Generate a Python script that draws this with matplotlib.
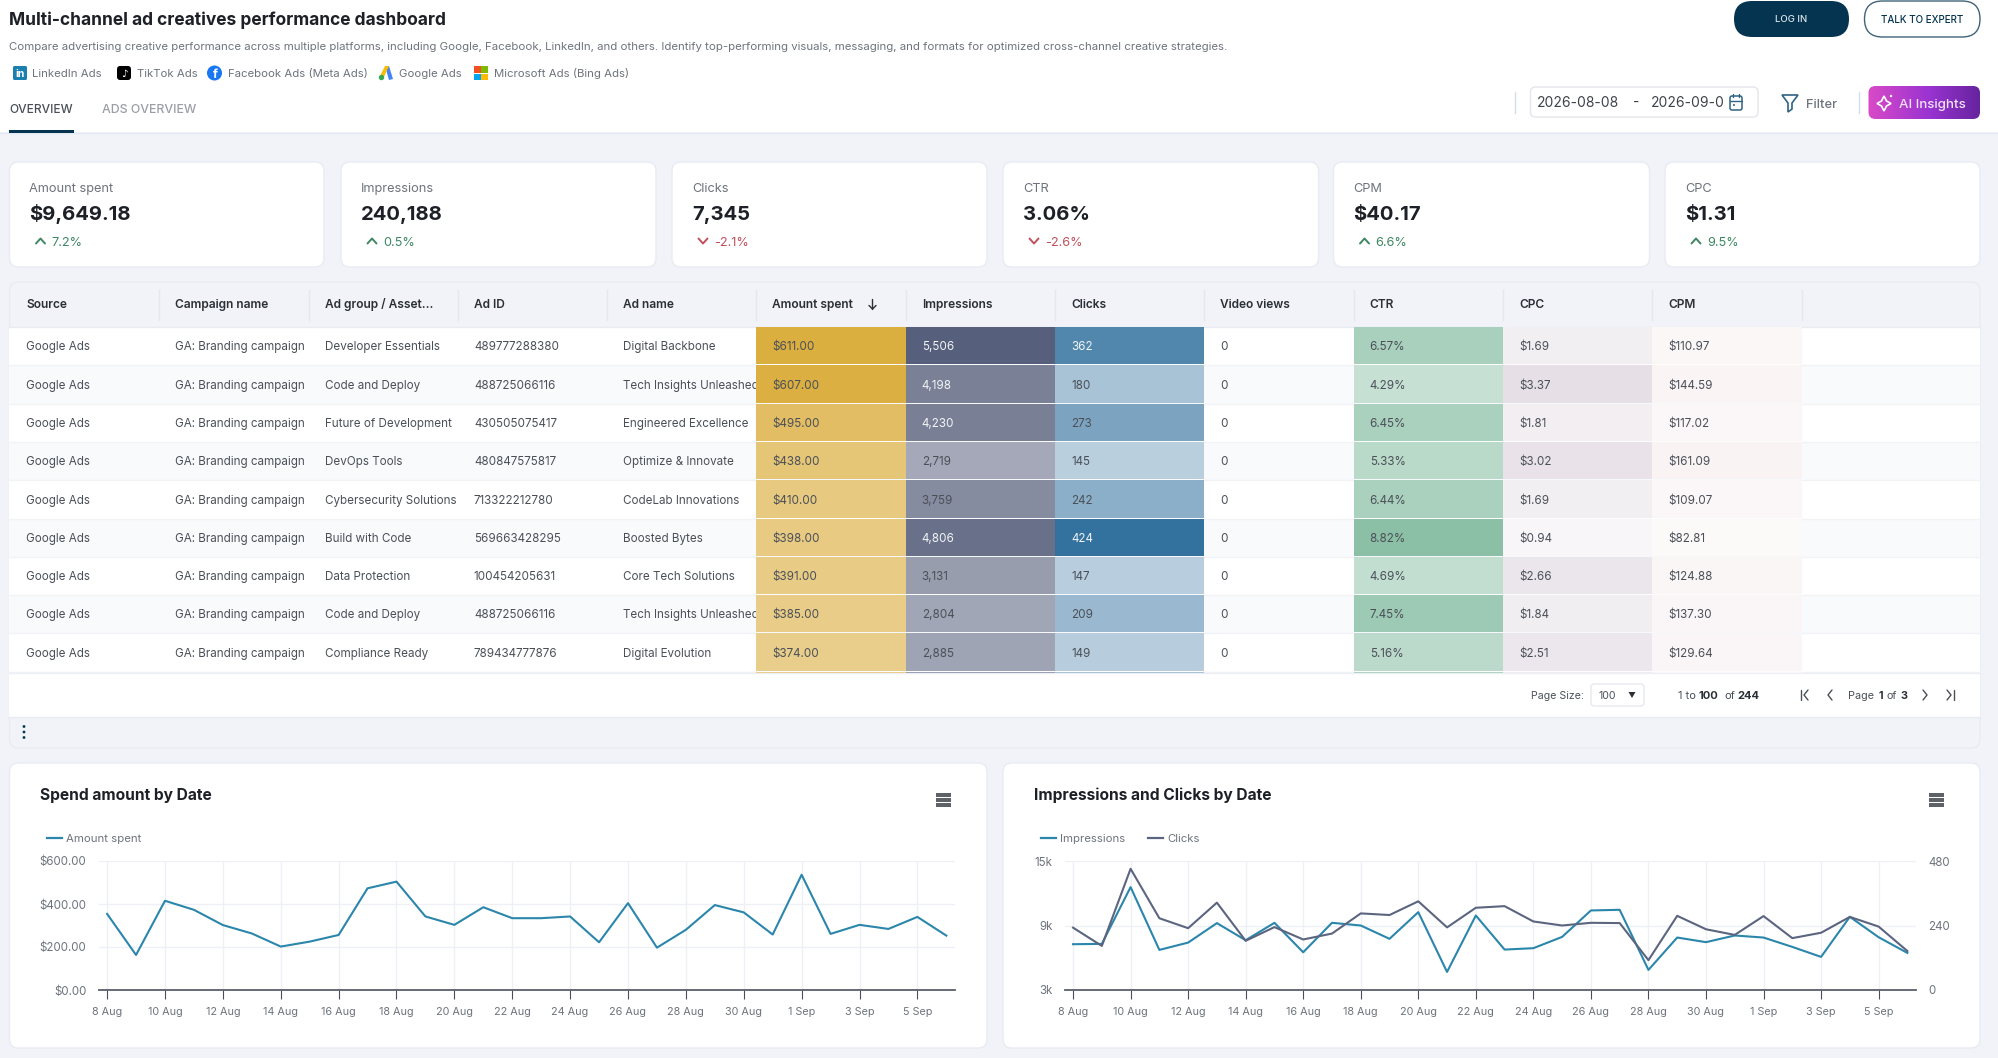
import numpy as np
import pandas as pd
import matplotlib
matplotlib.use("Agg")
import matplotlib.pyplot as plt
from matplotlib.patches import FancyBboxPatch, Rectangle, Polygon, Circle

plt.rcParams['font.family'] = ['Inter', 'DejaVu Sans']

W, H = 1999, 1058

# kpi cards
kpi_names = ["Amount spent", "Impressions", "Clicks", "CTR", "CPM", "CPC"]
kpi_values = ["$9,649.18", "240,188", "7,345", "3.06%", "$40.17", "$1.31"]
kpi_deltas = [7.2, 0.5, -2.1, -2.6, 6.6, 9.5]

# table
headers = ["Source", "Campaign name", "Ad group / Asset...", "Ad ID", "Ad name", "Amount spent",
           "Impressions", "Clicks", "Video views", "CTR", "CPC", "CPM"]
sources = ["Google Ads"] * 9
campaigns = ["GA: Branding campaign"] * 9
ad_groups = ["Developer Essentials", "Code and Deploy", "Future of Development", "DevOps Tools",
             "Cybersecurity Solutions", "Build with Code", "Data Protection", "Code and Deploy", "Compliance Ready"]
ad_ids = ["489777288380", "488725066116", "430505075417", "480847575817", "713322212780",
          "569663428295", "100454205631", "488725066116", "789434777876"]
ad_names = ["Digital Backbone", "Tech Insights Unleashed", "Engineered Excellence", "Optimize & Innovate",
            "CodeLab Innovations", "Boosted Bytes", "Core Tech Solutions", "Tech Insights Unleashed", "Digital Evolution"]
amount_spent = [611.00, 607.00, 495.00, 438.00, 410.00, 398.00, 391.00, 385.00, 374.00]
impressions = [5506, 4198, 4230, 2719, 3759, 4806, 3131, 2804, 2885]
clicks = [362, 180, 273, 145, 242, 424, 147, 209, 149]
video_views = [0] * 9
ctr = [6.57, 4.29, 6.45, 5.33, 6.44, 8.82, 4.69, 7.45, 5.16]
cpc = [1.69, 3.37, 1.81, 3.02, 1.69, 0.94, 2.66, 1.84, 2.51]
cpm = [110.97, 144.59, 117.02, 161.09, 109.07, 82.81, 124.88, 137.30, 129.64]
# the row cut off at the bottom of the table, only its colours show
next_row = [370, 3000, 180, 6.0, 2.05, 123]

# charts
dates = pd.date_range("2026-08-08", periods=30)
spend = [354, 163, 415, 373, 302, 263, 202, 225, 256, 473, 504, 342, 303, 385, 334,
         334, 342, 222, 404, 197, 280, 395, 361, 258, 536, 261, 303, 284, 340, 253]
daily_impressions = [7260, 7290, 12570, 6730, 7410, 9220, 7630, 9250, 6510, 9250, 9000, 7760, 10240, 4680, 9930,
                     6760, 6890, 7940, 10400, 10460, 4870, 7880, 7450, 8070, 7880, 7010, 6080, 9810, 7910, 6450]
daily_clicks = [232, 164, 451, 267, 230, 325, 183, 234, 188, 210, 285, 279, 330, 233, 306,
                312, 255, 240, 250, 249, 111, 276, 226, 205, 275, 193, 213, 272, 236, 145]

BG = "#f1f3f9"
NAVY = "#04344f"
TEXT = "#4b5058"
DARK = "#1d2026"
GREY = "#6e737c"
GREEN = "#3d8763"
RED = "#c0505c"
TEAL = "#2b86ab"
SLATE = "#5c6580"

fig = plt.figure(figsize=(W / 100, H / 100), dpi=100, facecolor=BG)
ui = fig.add_axes([0, 0, 1, 1])
ui.set_xlim(0, W)
ui.set_ylim(H, 0)
ui.axis("off")


def box(x0, y0, x1, y1, fc="white", ec="none", r=0, lw=1, z=1, ax=ui):
    if r:
        p = FancyBboxPatch((x0, y0), x1 - x0, y1 - y0, boxstyle=f"round,pad=0,rounding_size={r}",
                           fc=fc, ec=ec, lw=lw, zorder=z)
    else:
        p = Rectangle((x0, y0), x1 - x0, y1 - y0, fc=fc, ec=ec, lw=lw, zorder=z)
    ax.add_patch(p)
    return p


def label(x, y, s, size=8.7, color=TEXT, weight="normal", ha="left", z=5, clip=None):
    # baseline placement keeps a row of labels level whatever letters they have
    t = ui.text(x, y + size * 0.5, s, fontsize=size, color=color, fontweight=weight, ha=ha, va="baseline", zorder=z)
    if clip is not None:
        t.set_clip_on(True)
        t.set_clip_path(Rectangle((clip[0], 0), clip[1] - clip[0], H, transform=ui.transData))
    return t


def stroke(xs, ys, color=TEXT, lw=1.2, z=6):
    ui.plot(xs, ys, color=color, lw=lw, zorder=z, solid_capstyle="round", solid_joinstyle="round")


# header
box(0, 0, W, 132)
ui.plot([0, W], [132.5, 132.5], color="#e4e8f1", lw=1, zorder=2)
label(9, 19, "Multi-channel ad creatives performance dashboard", size=12.5, color=DARK, weight="bold")
label(9, 46, "Compare advertising creative performance across multiple platforms, including Google, Facebook, "
             "LinkedIn, and others. Identify top-performing visuals, messaging, and formats for optimized "
             "cross-channel creative strategies.", size=8.24, color=GREY)

box(1734, 1, 1849, 37, fc=NAVY, r=18)
label(1791, 19, "LOG IN", size=6.9, color="#dfe7ec", weight="medium", ha="center")
box(1864.5, 1, 1980, 37, ec="#3f6478", r=18, lw=1)
label(1922, 19, "TALK TO EXPERT", size=7.1, color=NAVY, weight="medium", ha="center")

# platform logos
box(13, 66, 27, 80, fc="#1b7fb0", r=1.5)
label(20, 73.5, "in", size=7.5, color="white", weight="bold", ha="center")
label(32, 73, "LinkedIn Ads", size=8.2, color=GREY)
box(117, 66, 131, 80, fc="black", r=3)
label(124, 73.5, "♪", size=7.5, color="white", ha="center")
label(137, 73, "TikTok Ads", size=8.2, color=GREY)
ui.add_patch(Circle((214.5, 73), 7.5, fc="#1877f2", zorder=3))
label(215, 74, "f", size=9, color="white", weight="bold", ha="center")
label(228, 73, "Facebook Ads (Meta Ads)", size=8.2, color=GREY)
ui.add_patch(Polygon([[385, 66], [389, 66], [393, 79], [389, 80]], fc="#4285f4", zorder=3))
ui.add_patch(Polygon([[385, 66], [389, 66], [383, 79], [379, 78]], fc="#fbbc04", zorder=3))
ui.add_patch(Circle((381.5, 77.5), 2.7, fc="#34a853", zorder=4))
label(399, 73, "Google Ads", size=8.2, color=GREY)
for (mx, my), mc in zip([(474, 66), (481.5, 66), (474, 73.5), (481.5, 73.5)],
                        ["#f25022", "#7fba00", "#00a4ef", "#ffb900"]):
    box(mx, my, mx + 6.8, my + 6.8, fc=mc, z=3)
label(494, 73, "Microsoft Ads (Bing Ads)", size=8.2, color=GREY)

# tabs
label(9, 109, "OVERVIEW", size=8.6, color="#4a4f57", weight="medium")
label(102, 109, "ADS OVERVIEW", size=8.9, color="#9a9ea6", weight="medium")
box(9, 130, 74, 132.5, fc=NAVY, z=3)

# date range, filter, insights
ui.plot([1515, 1515], [92, 113], color="#d5dde6", lw=1, zorder=2)
box(1530.5, 87, 1758, 117, ec="#e3e6ec", r=5)
label(1537, 102, "2026-08-08", size=10, color="#3e434b")
label(1636, 102, "-", size=10, color="#3e434b", ha="center")
label(1651, 102, "2026-09-06", size=10, color="#3e434b", clip=(1651, 1724))
box(1730, 96, 1742, 110, ec="#2f6482", r=2, lw=1.1, fc="none", z=4)
stroke([1730, 1742], [100.5, 100.5], color="#2f6482", lw=1)
stroke([1733, 1733], [94, 97], color="#2f6482", lw=1)
stroke([1739, 1739], [94, 97], color="#2f6482", lw=1)
ui.add_patch(Circle((1734, 105), 1, fc="#2f6482", zorder=5))
ui.add_patch(Polygon([[1782, 95], [1798, 95], [1792, 103], [1792, 109], [1788, 112], [1788, 103]],
                     fc="none", ec="#2f6482", lw=1.2, zorder=5))
label(1806, 103, "Filter", size=9.3, color=GREY, weight="medium")
ui.plot([1859, 1859], [92, 113], color="#d5dde6", lw=1, zorder=2)
grad_clip = box(1868.5, 86, 1980, 119, fc="none", r=7, z=3)
stops = np.array([[0.85, 0.29, 0.78], [0.60, 0.20, 0.82], [0.40, 0.14, 0.62]])
pos = np.linspace(0, 1, 112)
grad = np.stack([np.interp(pos, [0, 0.55, 1], stops[:, i]) for i in range(3)], axis=-1)[None, :, :]
im = ui.imshow(grad, extent=(1868.5, 1980, 119, 86), aspect="auto", zorder=3)
im.set_clip_path(grad_clip)
ui.set_xlim(0, W)
ui.set_ylim(H, 0)
ui.add_patch(Polygon([[1884, 96], [1886.5, 101], [1891, 103.5], [1886.5, 106], [1884, 111],
                      [1881.5, 106], [1877, 103.5], [1881.5, 101]],
                     fc="none", ec="white", lw=1.2, zorder=5))
ui.add_patch(Circle((1891, 96), 1.2, fc="white", zorder=5))
label(1899, 103, "AI Insights", size=9.6, color="#f4e3f6", weight="medium")

# kpi cards
card_edges = [(9.5, 324), (341, 656), (672, 987), (1003, 1318.5), (1333.5, 1649.5), (1665, 1980)]
for (c0, c1), name, val, d in zip(card_edges, kpi_names, kpi_values, kpi_deltas):
    box(c0, 162, c1, 267, ec="#e8ebf2", r=9)
    tx = c0 + 20
    label(tx, 187, name, size=9.2, color=GREY)
    label(tx, 213, val, size=14.6, color=DARK, weight="bold")
    col = GREEN if d > 0 else RED
    ax_ = tx + 11
    if d > 0:
        stroke([ax_ - 4.5, ax_, ax_ + 4.5], [243.5, 238.5, 243.5], color=col, lw=1.4)
    else:
        stroke([ax_ - 4.5, ax_, ax_ + 4.5], [238.5, 243.5, 238.5], color=col, lw=1.4)
    label(tx + 22, 241, f"{d}%", size=9.2, color=col)

# table
tbl_l, tbl_r = 9.5, 1980
col_org = 10
col_w = 149.3
row_h = 38.3
head_top, head_bot, rows_bot, foot_bot, tbl_bot = 282, 327, 673, 717, 748
box(tbl_l, head_top, tbl_r, tbl_bot, fc=BG, ec="#e8ebf2", r=9, z=1)
box(tbl_l, head_bot, tbl_r, foot_bot, z=2)
ui.plot([tbl_l, tbl_r], [head_bot, head_bot], color="#e8ebf2", lw=1, zorder=3)
ui.plot([tbl_l, tbl_r], [rows_bot, rows_bot], color="#eceff5", lw=1, zorder=3)
ui.plot([tbl_l, tbl_r], [foot_bot, foot_bot], color="#e8ebf2", lw=1, zorder=3)

col_left = [col_org + i * col_w for i in range(12)]
for i, h in enumerate(headers):
    label(col_left[i] + 16, 304, h, size=8.6, color="#2b2f36", weight="semibold")
    if i:
        ui.plot([col_left[i]] * 2, [290, 320], color="#e3e7f0", lw=1, zorder=3)
ui.plot([col_org + 12 * col_w] * 2, [290, 320], color="#e3e7f0", lw=1, zorder=3)
stroke([col_left[5] + 116] * 2, [299, 309], color="#2b2f36", lw=1)
stroke([col_left[5] + 112.5, col_left[5] + 116, col_left[5] + 119.5], [305.5, 309, 305.5], color="#2b2f36", lw=1)

text_cols = [sources, campaigns, ad_groups, ad_ids, ad_names]
heat_cols = {5: (amount_spent, 611.00, "#dbae40", 1, lambda v: f"${v:,.2f}"),
             6: (impressions, 5506, "#565f7b", 0.87, lambda v: f"{v:,}"),
             7: (clicks, 424, "#33729f", 1, lambda v: f"{v}"),
             9: (ctr, 8.82, "#8bc0a6", 1, lambda v: f"{v:.2f}%"),
             10: (cpc, 3.37, "#e6dfe6", 1, lambda v: f"${v:.2f}"),
             11: (cpm, 161.09, "#f9f3f4", 1, lambda v: f"${v:.2f}")}


def heat(v, top, color, gamma=1):
    a = np.array(matplotlib.colors.to_rgb(color))
    return tuple(1 - (1 - a) * min(v / top, 1) ** gamma)


n_rows = len(sources)
for r in range(n_rows):
    y0 = head_bot + r * row_h
    yc = y0 + row_h / 2
    if r % 2:
        box(tbl_l, y0, tbl_r, y0 + row_h, fc="#f9fafc", z=2)
    ui.plot([tbl_l, tbl_r], [y0 + row_h] * 2, color="#f1f3f7", lw=1, zorder=2.5)
    for c, col in enumerate(text_cols):
        label(col_left[c] + 16, yc, col[r], size=8.4, color=TEXT, z=3)
    label(col_left[8] + 16, yc, f"{video_views[r]}", size=8.4, color=TEXT)
    for c, (vals, top, color, gamma, fmt) in heat_cols.items():
        fc = heat(vals[r], top, color, gamma)
        box(col_left[c], y0, col_left[c] + col_w, y0 + row_h - 1, fc=fc, z=4)
        lum = 0.299 * fc[0] + 0.587 * fc[1] + 0.114 * fc[2]
        label(col_left[c] + 16, yc, fmt(vals[r]), size=8.4, color="#f2f4f7" if lum < 0.53 else TEXT)

y0 = head_bot + n_rows * row_h
for c, v in zip([5, 6, 7, 9, 10, 11], next_row):
    box(col_left[c], y0, col_left[c] + col_w, rows_bot,
        fc=heat(v, heat_cols[c][1], heat_cols[c][2], heat_cols[c][3]), z=4)

# pagination
label(1531, 695, "Page Size:", size=7.6, color=TEXT)
box(1591, 684, 1644, 706, ec="#e6e9ef", r=3, z=3)
label(1599, 695, "100", size=7.6, color=TEXT)
ui.add_patch(Polygon([[1628.5, 692], [1635.5, 692], [1632, 698]], fc="#2b2f36", zorder=5))
label(1678, 695, "1 to", size=8, color=TEXT)
label(1699, 695, "100", size=8, color="#2b2f36", weight="bold")
label(1724, 695, "of", size=8, color=TEXT)
label(1737, 695, "244", size=8, color="#2b2f36", weight="bold")
stroke([1801, 1801], [690, 700], lw=1)
stroke([1808, 1804, 1808], [690, 695, 700], lw=1)
stroke([1832, 1828, 1832], [690, 695, 700], lw=1)
label(1848, 695, "Page", size=7.8, color=TEXT)
label(1878.5, 695, "1", size=7.8, color="#2b2f36", weight="bold")
label(1887, 695, "of", size=7.8, color=TEXT)
label(1901, 695, "3", size=7.8, color="#2b2f36", weight="bold")
stroke([1923, 1927, 1923], [690, 695, 700], lw=1)
stroke([1947, 1951, 1947], [690, 695, 700], lw=1)
stroke([1954, 1954], [690, 700], lw=1)
for dy in (-5.5, 0, 5.5):
    ui.add_patch(Circle((24, 732 + dy), 1.4, fc=NAVY, zorder=5))

# chart cards
for c0, c1, title, tx, mx in [(9.5, 987, "Spend amount by Date", 40, 944),
                              (1003, 1980, "Impressions and Clicks by Date", 1034, 1937)]:
    box(c0, 763, c1, 1048, ec="#e8ebf2", r=9)
    label(tx, 794, title, size=11.2, color=DARK, weight="bold")
    for dy in (-5.2, 0, 5.2):
        box(mx - 7.5, 800 + dy - 1.8, mx + 7.5, 800 + dy + 1.8, fc="#5e6268", z=3)


def legend_key(x0, x1, xt, s, color):
    ui.plot([x0, x1], [838, 838], color=color, lw=1.6, zorder=5)
    label(xt, 838, s, size=8.2, color=GREY)


legend_key(47, 62, 66, "Amount spent", TEAL)
legend_key(1041, 1056, 1060, "Impressions", TEAL)
legend_key(1148, 1163, 1167, "Clicks", SLATE)


def chart_axes(l, r, t=861, b=990):
    a = fig.add_axes([l / W, 1 - b / H, (r - l) / W, (b - t) / H])
    a.patch.set_alpha(0)
    for name in ("top", "left", "right"):
        a.spines[name].set_visible(False)
    a.spines["bottom"].set_color("#5a5f6b")
    a.spines["bottom"].set_linewidth(1.3)
    a.tick_params(axis="y", length=0, labelsize=8.3, labelcolor=GREY, pad=9)
    a.tick_params(axis="x", length=6.5, width=0.8, color="#4a4e58", labelsize=7.8, labelcolor=GREY, pad=6)
    a.grid(True, color="#eef0f6", lw=1)
    a.set_axisbelow(True)
    day = (dates[-1] - dates[0]) / 29
    a.set_xlim(dates[0] - 0.28 * day, dates[-1] + 0.3 * day)
    a.set_xticks(dates[::2])
    a.set_xticklabels([f"{d.day} {d.strftime('%b')}" for d in dates[::2]])
    return a


ax1 = chart_axes(99, 955)
ax1.plot(dates, spend, color=TEAL, lw=1.5)
ax1.set_ylim(0, 600)
ax1.set_yticks([0, 200, 400, 600])
ax1.set_yticklabels(["$0.00", "$200.00", "$400.00", "$600.00"])

ax2 = chart_axes(1065, 1916)
ax2.plot(dates, daily_impressions, color=TEAL, lw=1.5)
ax2.set_ylim(3000, 15000)
ax2.set_yticks([3000, 9000, 15000])
ax2.set_yticklabels(["3k", "9k", "15k"])

ax3 = ax2.twinx()
ax3.patch.set_alpha(0)
ax3.plot(dates, daily_clicks, color=SLATE, lw=1.5)
ax3.set_ylim(0, 480)
ax3.set_yticks([0, 240, 480])
ax3.grid(False)
for name in ("top", "left", "right", "bottom"):
    ax3.spines[name].set_visible(False)
ax3.tick_params(axis="y", length=0, labelsize=8.3, labelcolor=GREY, pad=9)

fig.savefig("out.png", dpi=100, facecolor=BG)
